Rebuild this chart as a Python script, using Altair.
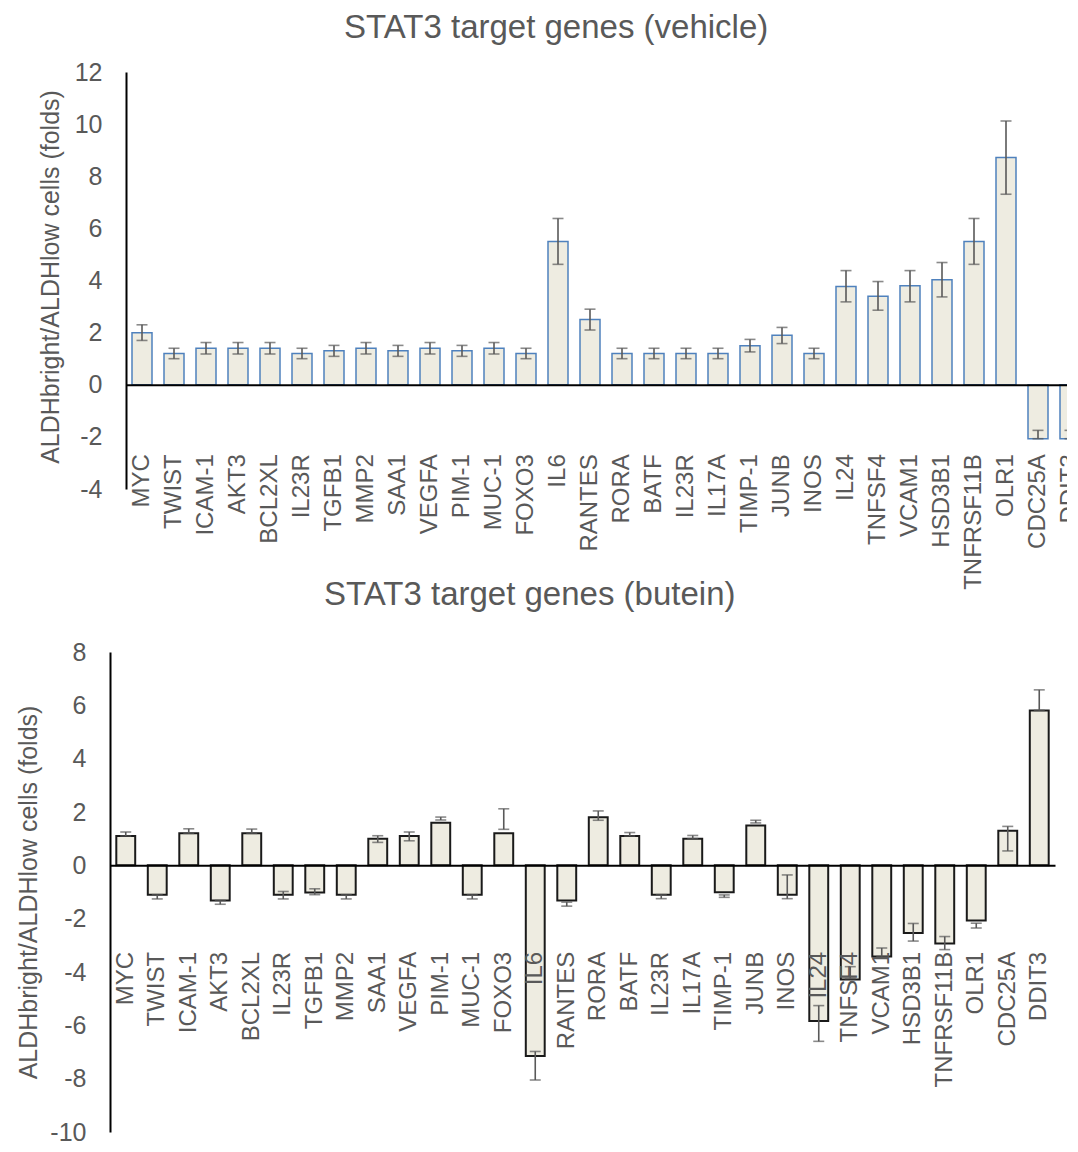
import json
import altair as alt
import pandas as pd

FONT = "Liberation Sans, Arial, sans-serif"
GRAY = "#595959"

genes = ["MYC", "TWIST", "ICAM-1", "AKT3", "BCL2XL", "IL23R", "TGFB1", "MMP2", "SAA1",
         "VEGFA", "PIM-1", "MUC-1", "FOXO3", "IL6", "RANTES", "RORA", "BATF", "IL23R",
         "IL17A", "TIMP-1", "JUNB", "INOS", "IL24", "TNFSF4", "VCAM1", "HSD3B1",
         "TNFRSF11B", "OLR1", "CDC25A", "DDIT3"]

# vehicle panel
vehicle_value = [2.0, 1.2, 1.4, 1.4, 1.4, 1.2, 1.3, 1.4, 1.3, 1.4, 1.3, 1.4, 1.2, 5.5, 2.5,
                 1.2, 1.2, 1.2, 1.2, 1.5, 1.9, 1.2, 3.77, 3.4, 3.8, 4.03, 5.5, 8.72, -2.07, -2.07]
vehicle_low = [1.7, 1.0, 1.18, 1.18, 1.18, 1.0, 1.09, 1.18, 1.09, 1.18, 1.09, 1.18, 1.0, 4.62, 2.1,
               1.0, 1.0, 1.0, 1.0, 1.26, 1.58, 1.0, 3.18, 2.86, 3.18, 3.37, 4.62, 7.31, -2.07, -2.07]
vehicle_high = [2.3, 1.4, 1.62, 1.62, 1.62, 1.4, 1.51, 1.62, 1.51, 1.62, 1.51, 1.62, 1.4, 6.38, 2.9,
                1.4, 1.4, 1.4, 1.4, 1.74, 2.2, 1.4, 4.38, 3.96, 4.38, 4.69, 6.38, 10.12, -1.75, -1.75]

# butein panel
butein_value = [1.1, -1.1, 1.2, -1.32, 1.2, -1.1, -1.02, -1.1, 1.0, 1.1, 1.6, -1.1, 1.2, -7.15, -1.32,
                1.8, 1.1, -1.1, 1.0, -1.01, 1.49, -1.1, -5.84, -4.28, -3.42, -2.54, -2.93, -2.07, 1.3, 5.81]
butein_low = [1.1, -1.26, 1.2, -1.46, 1.2, -1.26, -1.1, -1.26, 0.86, 0.92, 1.7, -1.26, 1.35, -8.05, -1.53,
              1.69, 1.1, -1.25, 1.0, -1.2, 1.59, -1.25, -6.6, -4.25, -3.42, -2.84, -3.16, -2.35, 0.54, 5.81]
butein_high = [1.25, -1.1, 1.37, -1.32, 1.36, -0.98, -0.88, -1.1, 1.11, 1.25, 1.81, -1.1, 2.12, -6.98, -1.38,
               2.04, 1.23, -1.1, 1.12, -1.11, 1.69, -0.36, -5.26, -3.8, -3.1, -2.18, -2.67, -2.17, 1.46, 6.58]

LABEL_EXPR = json.dumps(genes) + "[toNumber(datum.value)]"


def panel(title, values, lows, highs, ymin, ymax, width, height, x_range, pad_inner,
          y_axis_offset, bar_stroke, bar_stroke_w, title_dx, title_offset, ytitle_x,
          ytitle_shift, xlabel_pad):
    df = pd.DataFrame({
        "key": [f"{i:02d}" for i in range(len(genes))],
        "gene": genes,
        "value": values,
        "low": lows,
        "high": highs,
    })
    zero_px = height * (ymax - 0) / (ymax - ymin)
    x_axis_offset = -(height - zero_px)

    scale_kwargs = dict(paddingInner=pad_inner, paddingOuter=pad_inner / 2)
    if x_range is not None:
        scale_kwargs["range"] = x_range
    x = alt.X("key:N", sort=None, scale=alt.Scale(**scale_kwargs),
              axis=alt.Axis(title=None, labelExpr=LABEL_EXPR, labelAngle=-90,
                            labelFontSize=24, labelColor=GRAY, labelFont=FONT,
                            ticks=False, domainColor="black", domainWidth=2,
                            offset=x_axis_offset, labelPadding=xlabel_pad, zindex=1,
                            labelOverlap=False, labelLimit=400))
    yaxis = alt.Axis(title="ALDHbright/ALDHlow cells (folds)",
                     values=list(range(ymin, ymax + 1, 2)), labelExpr="'' + datum.value",
                     grid=False, ticks=False,
                     domainColor="black", domainWidth=2, labelFontSize=25,
                     labelColor=GRAY, labelFont=FONT, labelPadding=24,
                     titleFontSize=25, titleColor=GRAY, titleFont=FONT,
                     titleFontWeight="normal", titleX=ytitle_x,
                     titleY=height / 2 + ytitle_shift, offset=y_axis_offset,
                     zindex=1)
    yscale = alt.Scale(domain=[ymin, ymax], nice=False, zero=False)

    base = alt.Chart(df)
    bars = base.mark_bar(fill="#EEECE1", stroke=bar_stroke, strokeWidth=bar_stroke_w).encode(
        x=x, y=alt.Y("value:Q", scale=yscale, axis=yaxis), y2=alt.datum(0))
    rule = base.mark_rule(color=GRAY, strokeWidth=1.6).encode(
        x=x, y=alt.Y("low:Q", scale=yscale, axis=yaxis), y2="high:Q")
    cap_lo = base.mark_tick(color=GRAY, size=11, thickness=1.6, orient="horizontal").encode(
        x=x, y=alt.Y("low:Q", scale=yscale, axis=yaxis))
    cap_hi = base.mark_tick(color=GRAY, size=11, thickness=1.6, orient="horizontal").encode(
        x=x, y=alt.Y("high:Q", scale=yscale, axis=yaxis))

    return alt.layer(bars, rule, cap_lo, cap_hi).properties(
        width=width, height=height,
        title=alt.TitleParams(title, anchor="start", frame="group", dx=title_dx,
                              offset=title_offset, fontSize=33, font=FONT, color=GRAY,
                              fontWeight="normal", baseline="alphabetic"))


top = panel("STAT3 target genes (vehicle)", vehicle_value, vehicle_low, vehicle_high,
            -4, 12, 976, 417, [16, 976], 0.375, -16, "#4F81BD", 1.5,
            234, -11, -63, -4, 69)
bottom = panel("STAT3 target genes (butein)", butein_value, butein_low, butein_high,
               -10, 8, 945, 480, None, 0.4, 0, "#1a1a1a", 2,
               214, 2, -69, 0, 86)

chart = alt.vconcat(top, bottom, spacing=163, bounds="flush").properties(
    padding={"left": 7, "top": 4, "right": -19, "bottom": -1}
).configure_view(stroke=None)

chart.save("out.html", embed_options={"renderer": "svg", "actions": False})
